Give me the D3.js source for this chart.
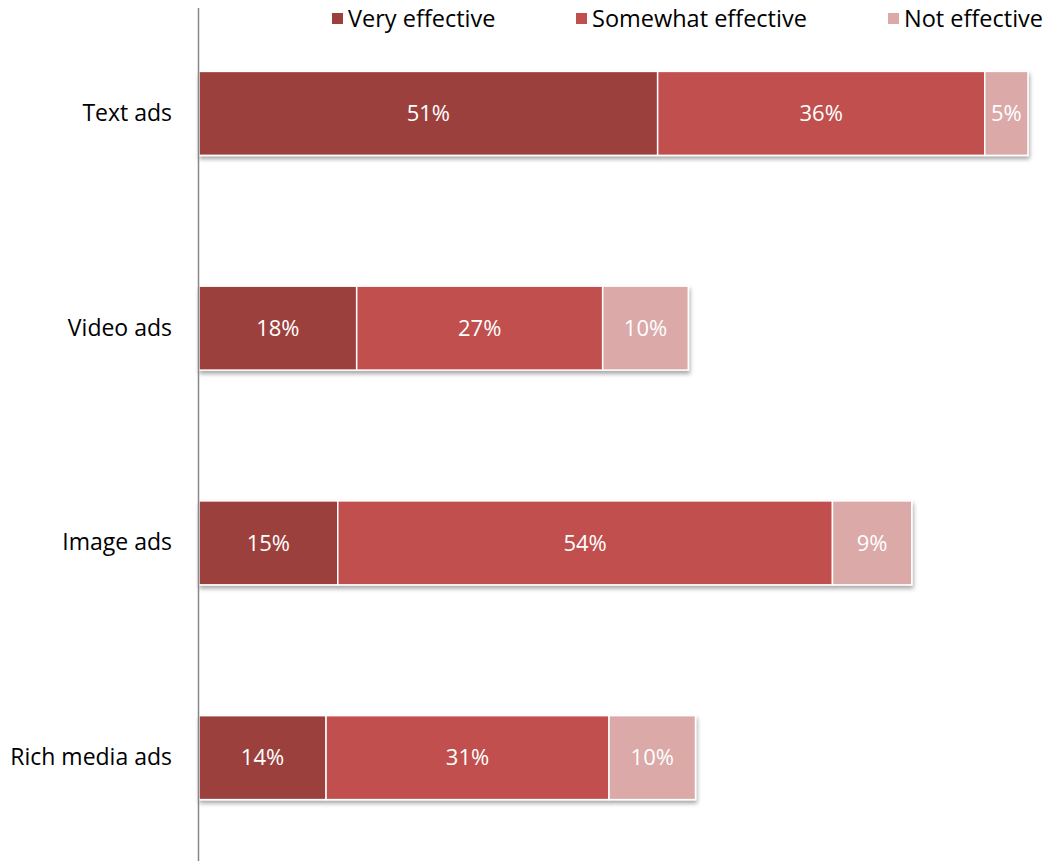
<!DOCTYPE html>
<html>
<head>
<meta charset="utf-8">
<script src="https://cdn.jsdelivr.net/npm/d3@7"></script>
<style>
  html, body { margin: 0; padding: 0; background: #fff; }
  svg { display: block; }
</style>
</head>
<body>
<svg id="chart" width="1047" height="861"></svg>
<script>
// ---- data ----
const categories = ["Text ads", "Video ads", "Image ads", "Rich media ads"];
const seriesNames = ["Very effective", "Somewhat effective", "Not effective"];
const veryEffective = [50.9, 17.5, 15.4, 14.1];
const somewhatEffective = [36.3, 27.3, 54.9, 31.4];
const notEffective = [4.8, 9.5, 8.8, 9.6];
const veryLabels = ["51%", "18%", "15%", "14%"];
const somewhatLabels = ["36%", "27%", "54%", "31%"];
const notLabels = ["5%", "10%", "9%", "10%"];
const colors = ["#9C403E", "#C0504D", "#DAA9A8"];

const font = "'Open Sans', 'Liberation Sans', sans-serif";

const svg = d3.select("#chart");

const rows = categories.map((c, i) => ({
  cat: c,
  values: [veryEffective[i], somewhatEffective[i], notEffective[i]],
  labels: [veryLabels[i], somewhatLabels[i], notLabels[i]]
}));

const x = d3.scaleLinear().domain([0, 92]).range([199, 1028]);
const y = d3.scaleBand().domain(categories).range([6, 865])
  .paddingInner(0.609).paddingOuter(0.3045);

// shadow filter
const defs = svg.append("defs");
const f = defs.append("filter").attr("id", "shadow")
  .attr("x", "-5%").attr("y", "-20%").attr("width", "110%").attr("height", "150%");
f.append("feDropShadow").attr("dx", 1).attr("dy", 3).attr("stdDeviation", 2)
  .attr("flood-color", "#000").attr("flood-opacity", 0.35);

// bars
const g = svg.append("g");
rows.forEach(r => {
  const stacked = [];
  let acc = 0;
  r.values.forEach((v, k) => { stacked.push({ k, x0: acc, x1: acc + v, label: r.labels[k] }); acc += v; });
  const rg = g.append("g").attr("filter", "url(#shadow)");
  rg.selectAll("rect").data(stacked).join("rect")
    .attr("x", d => x(d.x0))
    .attr("y", y(r.cat))
    .attr("width", d => x(d.x1) - x(d.x0))
    .attr("height", y.bandwidth())
    .attr("fill", d => colors[d.k])
    .attr("stroke", "#fff")
    .attr("stroke-width", 1.5);
  g.selectAll(null).data(stacked).join("text")
    .attr("x", d => (x(d.x0) + x(d.x1)) / 2)
    .attr("y", y(r.cat) + y.bandwidth() / 2)
    .attr("dy", "0.35em")
    .attr("text-anchor", "middle")
    .attr("fill", "#fff")
    .attr("font-family", font)
    .attr("font-size", 22)
    .text(d => d.label);
});

// axis
const axis = d3.axisLeft(y).tickSize(0).tickPadding(26);
const ax = svg.append("g").attr("transform", "translate(198,0)").call(axis);
ax.select(".domain").attr("d", "M0.5,8V861").attr("stroke", "#888").attr("stroke-width", 1.5);
ax.selectAll("text").attr("font-family", font).attr("font-size", 23).attr("fill", "#000");

// legend
const legendTextX = [348, 592, 904];
const lg = svg.append("g");
seriesNames.forEach((s, i) => {
  lg.append("rect").attr("x", legendTextX[i] - 16).attr("y", 13).attr("width", 11).attr("height", 11).attr("fill", colors[i]);
  lg.append("text").attr("x", legendTextX[i]).attr("y", 19).attr("dy", "0.35em")
    .attr("font-family", font).attr("font-size", 23.5).attr("fill", "#000").text(s);
});
</script>
</body>
</html>
